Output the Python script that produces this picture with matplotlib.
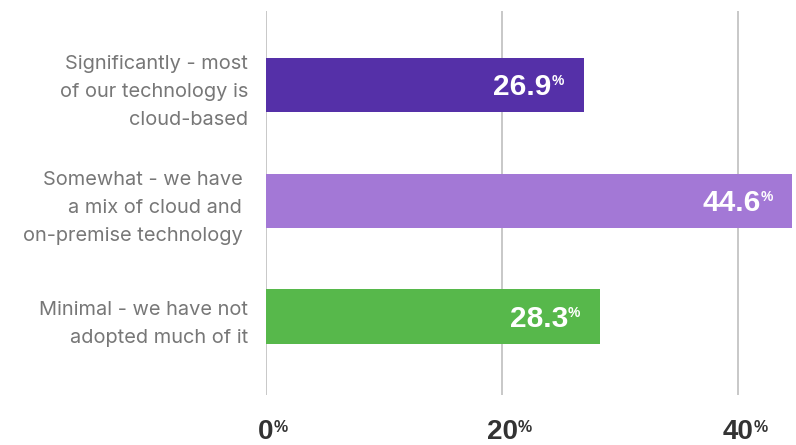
import matplotlib.pyplot as plt

categories = [
    "Significantly - most\nof our technology is\ncloud-based",
    "Somewhat - we have \na mix of cloud and \non-premise technology ",
    "Minimal - we have not\nadopted much of it",
]
values = [26.9, 44.6, 28.3]
colors = ["#5530a8", "#a378d6", "#57b84b"]
xticks = [0, 20, 40]

fig = plt.figure(figsize=(7.96, 4.45), dpi=100)
ax = fig.add_axes([266 / 796, 50 / 445, 530 / 796, 384 / 445])

ypos = range(len(values))
ax.barh(ypos, values, height=0.467, color=colors, zorder=2)

ax.set_xlim(0, 44.9)
ax.set_ylim(2.678, -0.639)

# vertical guides instead of spines
for x in xticks:
    ax.axvline(x, color="#c4c4c4", lw=1.3, zorder=1)
for s in ax.spines.values():
    s.set_visible(False)

ax.set_xticks([])
ax.set_yticks(list(ypos))
ax.set_yticklabels(categories, fontfamily="Inter", fontsize=14.4,
                   color="#777777", linespacing=1.72)
ax.tick_params(axis="y", length=0, pad=13)

# value labels inside bar ends, with small raised %
for i, v in enumerate(values):
    num = ax.annotate(f"{v:.1f}", xy=(v, i), xytext=(-32, -10),
                      textcoords="offset pixels", ha="right", va="baseline",
                      color="white", fontsize=21.5, fontweight="bold",
                      fontfamily="Liberation Sans", zorder=3)
    ax.annotate("%", xy=(1, 1), xycoords=num, xytext=(0, -1),
                textcoords="offset pixels", ha="left", va="top",
                color="white", fontsize=10, fontweight="bold",
                fontfamily="Liberation Sans", zorder=3)

# x tick labels below the plot
for x in xticks:
    num = ax.annotate(f"{x}", xy=(x, 0), xycoords=ax.get_xaxis_transform(),
                      xytext=(0, -44), textcoords="offset pixels",
                      ha="center", va="baseline", color="#333333",
                      fontsize=20, fontweight="bold",
                      fontfamily="Liberation Sans", annotation_clip=False)
    ax.annotate("%", xy=(1, 1), xycoords=num, xytext=(0, -1),
                textcoords="offset pixels", ha="left", va="top",
                color="#333333", fontsize=11.5, fontweight="bold",
                fontfamily="Liberation Sans", annotation_clip=False)

fig.savefig("out.png", dpi=100)
